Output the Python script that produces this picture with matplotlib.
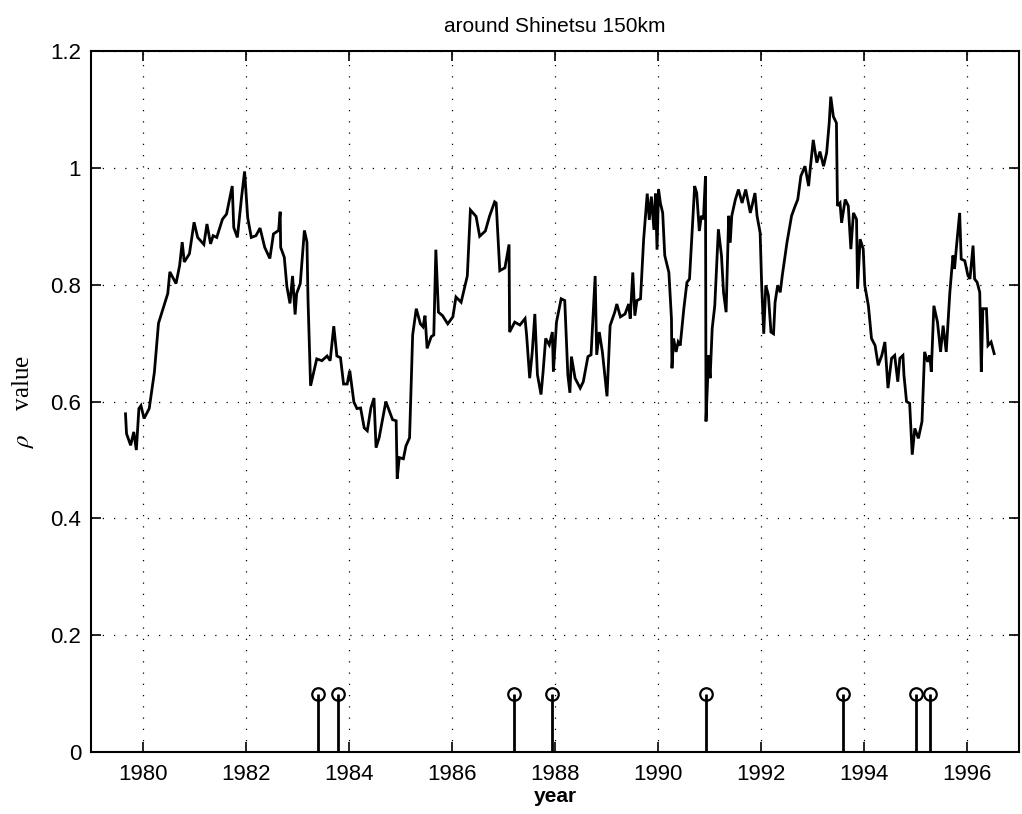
import matplotlib
matplotlib.use("Agg")
import matplotlib.pyplot as plt
import numpy as np

plt.rcParams['mathtext.fontset'] = 'stix'

# ---- data ----
years = [
    1979.67, 1979.69, 1979.77, 1979.83, 1979.88, 1979.93, 1979.97, 1980.03, 1980.13, 1980.23,
    1980.31, 1980.49, 1980.53, 1980.65, 1980.72, 1980.77, 1980.81, 1980.91, 1981.00, 1981.07,
    1981.19, 1981.25, 1981.32, 1981.37, 1981.44, 1981.55, 1981.63, 1981.74, 1981.77, 1981.84,
    1981.92, 1981.98, 1982.04, 1982.11, 1982.20, 1982.28, 1982.37, 1982.47, 1982.54, 1982.64,
    1982.67, 1982.68, 1982.75, 1982.80, 1982.86, 1982.91, 1982.96, 1982.99, 1983.06, 1983.14,
    1983.19, 1983.21, 1983.26, 1983.32, 1983.38, 1983.48, 1983.58, 1983.64, 1983.71, 1983.77,
    1983.84, 1983.90, 1983.97, 1984.02, 1984.10, 1984.16,
    1984.23, 1984.30, 1984.36, 1984.43, 1984.49, 1984.53, 1984.59, 1984.72, 1984.85, 1984.92,
    1984.94, 1984.98, 1985.06, 1985.11, 1985.18, 1985.24, 1985.31, 1985.39, 1985.44, 1985.48,
    1985.52, 1985.60, 1985.65, 1985.69, 1985.74, 1985.82, 1985.92, 1986.02, 1986.08, 1986.18,
    1986.30, 1986.36, 1986.47, 1986.54, 1986.65, 1986.73, 1986.83, 1986.86, 1986.93, 1987.03,
    1987.11, 1987.12, 1987.22, 1987.32, 1987.42, 1987.45, 1987.51, 1987.56, 1987.61, 1987.66,
    1987.73, 1987.77, 1987.82, 1987.89, 1987.95, 1987.97, 1988.03, 1988.12, 1988.19, 1988.25,
    1988.29, 1988.32, 1988.39, 1988.49, 1988.55, 1988.64, 1988.70, 1988.78, 1988.81, 1988.86,
    1988.92, 1989.01, 1989.07, 1989.16, 1989.20, 1989.27, 1989.36, 1989.43, 1989.46, 1989.51,
    1989.55, 1989.59, 1989.66, 1989.72, 1989.79, 1989.83, 1989.87, 1989.92, 1989.95, 1989.98,
    1990.01, 1990.045, 1990.09, 1990.13, 1990.21, 1990.26, 1990.27, 1990.30, 1990.35, 1990.39,
    1990.43, 1990.50, 1990.56, 1990.61, 1990.66, 1990.71, 1990.75, 1990.80, 1990.84, 1990.88,
    1990.92, 1990.93, 1990.98, 1991.01, 1991.05, 1991.10, 1991.17, 1991.23, 1991.27, 1991.32,
    1991.37, 1991.40, 1991.43, 1991.50, 1991.56, 1991.63, 1991.70, 1991.79, 1991.88, 1991.92,
    1991.98, 1992.01, 1992.05, 1992.09, 1992.14, 1992.19, 1992.24, 1992.27, 1992.32, 1992.37,
    1992.41, 1992.50, 1992.59, 1992.66, 1992.71, 1992.77, 1992.85, 1992.92, 1992.95, 1993.01,
    1993.08, 1993.14, 1993.21, 1993.27, 1993.32, 1993.35, 1993.40, 1993.46, 1993.48, 1993.53,
    1993.56, 1993.63, 1993.69, 1993.74, 1993.79, 1993.85, 1993.87, 1993.92, 1993.98, 1994.01,
    1994.08, 1994.14, 1994.21, 1994.27, 1994.34, 1994.40, 1994.46, 1994.53, 1994.59, 1994.65,
    1994.69, 1994.75, 1994.77, 1994.82, 1994.88, 1994.93, 1994.98, 1995.05, 1995.12, 1995.17,
    1995.23, 1995.27, 1995.30, 1995.35, 1995.42, 1995.48, 1995.53, 1995.59, 1995.66, 1995.72,
    1995.75, 1995.79, 1995.85, 1995.88, 1995.95, 1996.01, 1996.05, 1996.11, 1996.14, 1996.19,
    1996.24, 1996.27, 1996.30, 1996.37, 1996.40, 1996.46, 1996.52,
]
rho = [
    0.579, 0.545, 0.525, 0.548, 0.517, 0.588, 0.593, 0.571, 0.588, 0.650,
    0.734, 0.785, 0.822, 0.802, 0.833, 0.873, 0.839, 0.853, 0.907, 0.881,
    0.869, 0.904, 0.870, 0.884, 0.881, 0.912, 0.921, 0.969, 0.898, 0.881,
    0.949, 0.994, 0.915, 0.881, 0.884, 0.897, 0.864, 0.845, 0.887, 0.893,
    0.925, 0.864, 0.847, 0.797, 0.768, 0.815, 0.749, 0.785, 0.802, 0.893,
    0.873, 0.775, 0.627, 0.650, 0.673, 0.670, 0.678, 0.670, 0.729, 0.678,
    0.675, 0.630, 0.630, 0.653, 0.599, 0.588,
    0.589, 0.555, 0.550, 0.589, 0.606, 0.521, 0.538, 0.600, 0.569, 0.567,
    0.468, 0.504, 0.502, 0.524, 0.538, 0.714, 0.759, 0.733, 0.728, 0.747,
    0.691, 0.711, 0.714, 0.860, 0.753, 0.747, 0.733, 0.745, 0.779, 0.770,
    0.815, 0.928, 0.917, 0.883, 0.892, 0.917, 0.942, 0.940, 0.824, 0.829,
    0.869, 0.719, 0.736, 0.731, 0.742, 0.714, 0.640, 0.685, 0.750, 0.646,
    0.612, 0.651, 0.708, 0.697, 0.719, 0.651, 0.736, 0.776, 0.773, 0.646,
    0.615, 0.677, 0.640, 0.623, 0.634, 0.677, 0.680, 0.815, 0.680, 0.719,
    0.685, 0.609, 0.730, 0.753, 0.767, 0.745, 0.750, 0.767, 0.742, 0.821,
    0.747, 0.773, 0.776, 0.877, 0.956, 0.911, 0.951, 0.894, 0.956, 0.860,
    0.963, 0.940, 0.923, 0.850, 0.821, 0.742, 0.657, 0.708, 0.685, 0.702,
    0.696, 0.759, 0.804, 0.810, 0.889, 0.969, 0.957, 0.892, 0.918, 0.912,
    0.986, 0.566, 0.679, 0.640, 0.725, 0.764, 0.895, 0.850, 0.787, 0.753,
    0.918, 0.872, 0.918, 0.946, 0.963, 0.940, 0.963, 0.923, 0.957, 0.918,
    0.889, 0.799, 0.716, 0.799, 0.782, 0.719, 0.716, 0.770, 0.799, 0.787,
    0.816, 0.872, 0.918, 0.935, 0.946, 0.986, 1.003, 0.969, 0.997, 1.048,
    1.009, 1.028, 1.003, 1.026, 1.077, 1.122, 1.088, 1.077, 0.935, 0.940,
    0.906, 0.946, 0.935, 0.861, 0.923, 0.912, 0.793, 0.878, 0.861, 0.799,
    0.764, 0.708, 0.696, 0.662, 0.679, 0.702, 0.623, 0.674, 0.679, 0.634,
    0.674, 0.679, 0.645, 0.600, 0.597, 0.509, 0.554, 0.537, 0.566, 0.685,
    0.668, 0.679, 0.651, 0.764, 0.736, 0.685, 0.730, 0.685, 0.787, 0.850,
    0.827, 0.867, 0.923, 0.844, 0.841, 0.816, 0.810, 0.867, 0.810, 0.804,
    0.787, 0.651, 0.759, 0.759, 0.696, 0.702, 0.682,
]
eq_years = [1983.41, 1983.80, 1987.21, 1987.95, 1990.93, 1993.59, 1995.00, 1995.28]
eq_marks = [0.1, 0.1, 0.1, 0.1, 0.1, 0.1, 0.1, 0.1]

x_ticks = [1980, 1982, 1984, 1986, 1988, 1990, 1992, 1994, 1996]
y_ticks = [0, 0.2, 0.4, 0.6, 0.8, 1.0, 1.2]
y_tick_labels = ['0', '0.2', '0.4', '0.6', '0.8', '1', '1.2']

# ---- figure ----
fig = plt.figure(figsize=(10.22, 8.14), dpi=100)
ax = fig.add_axes([0.089, 0.0762, 0.908, 0.861])

ax.plot(years, rho, color='black', linewidth=2.0, solid_joinstyle='miter')

markerline, stemlines, baseline = ax.stem(eq_years, eq_marks, linefmt='k-', markerfmt='ko', basefmt=' ')
plt.setp(stemlines, linewidth=2.0, color='black')
plt.setp(markerline, markersize=9, markerfacecolor='none', markeredgecolor='black', markeredgewidth=1.6)

ax.set_xlim(1979, 1997)
ax.set_ylim(0, 1.2)
ax.set_xticks(x_ticks)
ax.set_xticklabels([str(t) for t in x_ticks])
ax.set_yticks(y_ticks)
ax.set_yticklabels(y_tick_labels)

ax.grid(True, color='black', linestyle=(0, (1, 8)), linewidth=0.9)
ax.tick_params(direction='in', length=7, width=1.2, top=True, right=True,
               labelsize=16, pad=7)
ax.tick_params(axis='x', pad=9)
for lab in ax.get_xticklabels() + ax.get_yticklabels():
    lab.set_family('Liberation Sans')
for sp in ax.spines.values():
    sp.set_linewidth(1.5)

ax.set_title('around Shinetsu 150km', fontsize=15, family='Liberation Sans', pad=14)
ax.set_xlabel('year', fontsize=15, family='Liberation Sans', fontweight='bold', labelpad=1)
ax.set_ylabel(r'$\rho$    value', fontsize=18, family='Liberation Serif', labelpad=10)

fig.savefig('out.png', dpi=100)
